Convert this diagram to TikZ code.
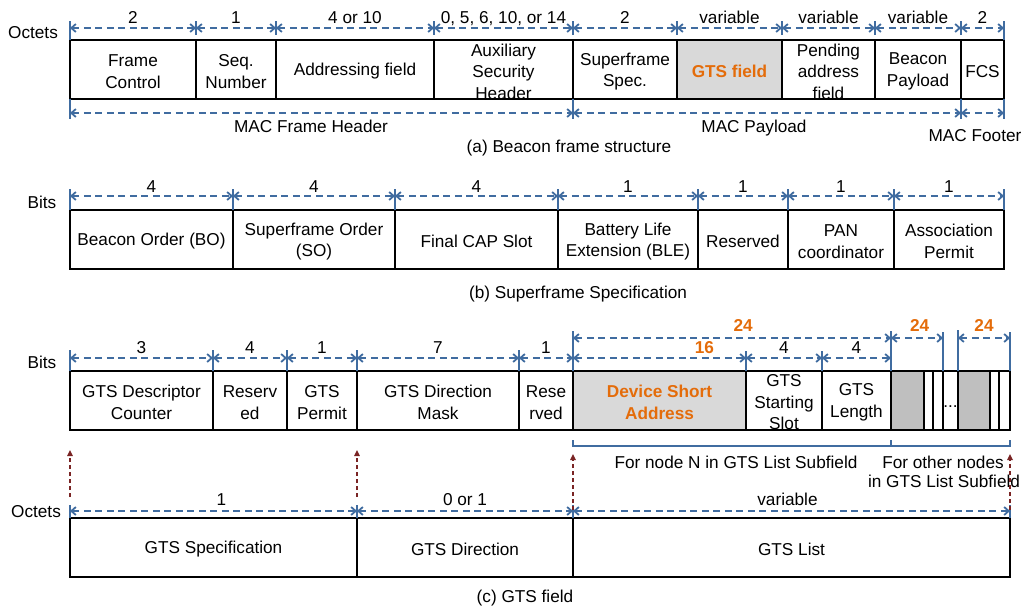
\documentclass[tikz,border=0pt]{standalone}
\usepackage{fontspec}
\setmainfont{Liberation Sans}
\usetikzlibrary{arrows.meta}
\definecolor{dimblue}{RGB}{64,108,160}
\definecolor{hlorange}{RGB}{228,108,10}
\definecolor{darkred}{RGB}{122,36,36}
\definecolor{lgray}{RGB}{217,217,217}
\definecolor{dgray}{RGB}{191,191,191}
\newcommand\cellfont{\fontsize{17.2}{21.5}\selectfont}
\tikzset{
  cell/.style={draw=black, line width=1.8pt, inner sep=0pt, outer sep=0pt},
  hl/.style={font=\cellfont\bfseries, text=hlorange},
  dim/.style={draw=dimblue, line width=1.8pt, dash pattern=on 7pt off 4.5pt,
    {Straight Barb[length=4.5pt,width=8pt]}-{Straight Barb[length=4.5pt,width=8pt]}},
  tick/.style={draw=dimblue, line width=1.3pt},
  lab/.style={font=\cellfont, inner sep=0pt, anchor=base},
  txt/.style={font=\cellfont, inner sep=0pt, align=center},
  upar/.style={draw=darkred, line width=1.6pt, dash pattern=on 4pt off 3pt,
    -{Triangle[length=6pt,width=5.5pt]}},
  brk/.style={draw=dimblue, line width=1.5pt},
}
% #1 cell style, #2 text style, #3 name, #4 x1, #5 x2, #6 ytop, #7 ybottom, #8 text
\newcommand\fcell[8]{%
  \pgfmathsetmacro\cw{#5-#4}\pgfmathsetmacro\ch{#7-#6}%
  \node[cell,#1,minimum width=\cw pt,minimum height=\ch pt,anchor=north west] (#3) at (#4,#6) {};
  \node[txt,#2] (#3-t) at ([yshift=-2pt]#3.center) {#8};}
% dimension line: #1 from anchor, #2 to anchor, #3 shift, #4 label opts, #5 label
\newcommand\dimab[5]{%
  \draw[dim] ([yshift=#3]#1) -- ([yshift=#3]#2) node[lab,midway,yshift=5pt,#4]{#5};}
% tick: #1 anchor, #2 top shift, #3 bottom shift
\newcommand\tk[3]{\draw[tick] ([yshift=#2]#1) -- ([yshift=#3]#1);}
\begin{document}
\begin{tikzpicture}[x=1pt,y=-1pt]
\useasboundingbox (0,0) rectangle (1022,608);

% ---------------- (a) Beacon frame structure
\node[txt] (oct1) at (33,33) {Octets};
\fcell{}{}{fc}{70}{196}{40}{99}{Frame\\Control}
\fcell{}{}{sn}{196}{276}{40}{99}{Seq.\\Number}
\fcell{}{}{af}{276}{434}{40}{99}{Addressing field}
\fcell{}{}{ash}{434}{573}{40}{99}{Auxiliary\\Security\\Header}
\fcell{}{}{ss}{573}{677}{40}{99}{Superframe\\Spec.}
\fcell{fill=lgray}{hl}{gts}{677}{782}{40}{99}{GTS field}
\fcell{}{}{pa}{782}{875}{40}{99}{Pending\\address\\field}
\fcell{}{}{bp}{875}{961}{40}{99}{Beacon\\Payload}
\fcell{}{}{fcs}{961}{1004}{40}{99}{FCS}

\tk{fc.north west}{19pt}{0pt}
\tk{sn.north west}{19pt}{5pt}
\tk{af.north west}{19pt}{5pt}
\tk{ash.north west}{19pt}{5pt}
\tk{ss.north west}{19pt}{5pt}
\tk{gts.north west}{19pt}{5pt}
\tk{pa.north west}{19pt}{5pt}
\tk{bp.north west}{19pt}{5pt}
\tk{fcs.north west}{19pt}{5pt}
\tk{fcs.north east}{19pt}{0pt}
\dimab{fc.north west}{fc.north east}{12pt}{}{2}
\dimab{sn.north west}{sn.north east}{12pt}{}{1}
\dimab{af.north west}{af.north east}{12pt}{}{4 or 10}
\dimab{ash.north west}{ash.north east}{12pt}{}{0, 5, 6, 10, or 14}
\dimab{ss.north west}{ss.north east}{12pt}{}{2}
\dimab{gts.north west}{gts.north east}{12pt}{}{variable}
\dimab{pa.north west}{pa.north east}{12pt}{}{variable}
\dimab{bp.north west}{bp.north east}{12pt}{}{variable}
\dimab{fcs.north west}{fcs.north east}{12pt}{}{2}

\tk{fc.south west}{0pt}{-20pt}
\tk{ss.south west}{0pt}{-20pt}
\tk{fcs.south west}{0pt}{-20pt}
\tk{fcs.south east}{0pt}{-20pt}
\draw[dim] ([yshift=-14pt]fc.south west) -- ([yshift=-14pt]ss.south west);
\draw[dim] ([yshift=-14pt]ss.south west) -- ([yshift=-14pt]fcs.south west);
\draw[dim] ([yshift=-14pt]fcs.south west) -- ([yshift=-14pt]fcs.south east);
\node[lab] (mfh) at (311,132) {MAC Frame Header};
\node[lab] (mpl) at (754,132) {MAC Payload};
\node[lab] (mft) at (975,141) {MAC Footer};
\node[lab] (capa) at (569,152) {(a) Beacon frame structure};

% ---------------- (b) Superframe Specification
\node[txt] (bits1) at (42,202) {Bits};
\fcell{}{}{bo}{70}{233}{210}{269}{Beacon Order (BO)}
\fcell{}{}{so}{233}{395}{210}{269}{Superframe Order\\(SO)}
\fcell{}{}{fcap}{395}{558}{210}{269}{Final CAP Slot}
\fcell{}{}{ble}{558}{698}{210}{269}{Battery Life\\Extension (BLE)}
\fcell{}{}{rsvb}{698}{788}{210}{269}{Reserved}
\fcell{}{}{pan}{788}{894}{210}{269}{PAN\\coordinator}
\fcell{}{}{asp}{894}{1004}{210}{269}{Association\\Permit}
\tk{bo.north west}{21pt}{0pt}
\tk{so.north west}{21pt}{0pt}
\tk{fcap.north west}{21pt}{0pt}
\tk{ble.north west}{21pt}{0pt}
\tk{rsvb.north west}{21pt}{0pt}
\tk{pan.north west}{21pt}{0pt}
\tk{asp.north west}{21pt}{0pt}
\tk{asp.north east}{21pt}{0pt}
\dimab{bo.north west}{bo.north east}{14pt}{yshift=-1pt}{4}
\dimab{so.north west}{so.north east}{14pt}{yshift=-1pt}{4}
\dimab{fcap.north west}{fcap.north east}{14pt}{yshift=-1pt}{4}
\dimab{ble.north west}{ble.north east}{14pt}{yshift=-1pt}{1}
\dimab{rsvb.north west}{rsvb.north east}{14pt}{yshift=-1pt}{1}
\dimab{pan.north west}{pan.north east}{14pt}{yshift=-1pt}{1}
\dimab{asp.north west}{asp.north east}{14pt}{yshift=-1pt}{1}
\node[lab] (capb) at (578,298) {(b) Superframe Specification};

% ---------------- (c) GTS field, bits
\node[txt] (bits2) at (42,362) {Bits};
\fcell{}{}{gdc}{70}{213}{371}{430}{GTS Descriptor\\Counter}
\fcell{}{}{rsvc}{213}{287}{371}{430}{Reserv\\ed}
\fcell{}{}{gp}{287}{357}{371}{430}{GTS\\Permit}
\fcell{}{}{gdm}{357}{519}{371}{430}{GTS Direction\\Mask}
\fcell{}{}{rsvd}{519}{573}{371}{430}{Rese\\rved}
\fcell{fill=lgray}{hl}{dsa}{573}{746}{371}{430}{Device Short\\Address}
\fcell{}{}{gss}{746}{822}{371}{430}{GTS\\Starting\\Slot}
\fcell{}{}{gl}{822}{891}{371}{430}{GTS\\Length}
\fcell{fill=dgray}{}{sa}{891}{924}{371}{430}{}
\fcell{}{}{sb}{924}{933}{371}{430}{}
\fcell{}{}{sc}{933}{943}{371}{430}{}
\fcell{}{}{sd}{943}{958}{371}{430}{}
\fcell{fill=dgray}{}{se}{958}{990}{371}{430}{}
\fcell{}{}{sf}{990}{999}{371}{430}{}
\fcell{}{}{sg}{999}{1010}{371}{430}{}
\node[txt] (dots) at (950.5,407) {...};

\tk{gdc.north west}{21pt}{0pt}
\tk{rsvc.north west}{21pt}{0pt}
\tk{gp.north west}{21pt}{0pt}
\tk{gdm.north west}{21pt}{0pt}
\tk{rsvd.north west}{21pt}{0pt}
\tk{dsa.north west}{40pt}{0pt}
\tk{gss.north west}{20pt}{0pt}
\tk{gl.north west}{20pt}{0pt}
\tk{gl.north east}{40pt}{0pt}
\tk{sc.north east}{39pt}{0pt}
\tk{se.north west}{41pt}{0pt}
\tk{sg.north east}{39pt}{0pt}
\dimab{gdc.north west}{gdc.north east}{13pt}{}{3}
\dimab{rsvc.north west}{rsvc.north east}{13pt}{}{4}
\dimab{gp.north west}{gp.north east}{13pt}{}{1}
\dimab{gdm.north west}{gdm.north east}{13pt}{}{7}
\dimab{rsvd.north west}{rsvd.north east}{13pt}{}{1}
\dimab{dsa.north west}{dsa.north east}{13pt}{pos=0.76,font=\cellfont\bfseries,text=hlorange}{16}
\dimab{gss.north west}{gss.north east}{13pt}{}{4}
\dimab{gl.north west}{gl.north east}{13pt}{}{4}
\dimab{dsa.north west}{gl.north east}{33pt}{pos=0.535,yshift=2pt,font=\cellfont\bfseries,text=hlorange}{24}
\dimab{sa.north west}{sc.north east}{33pt}{pos=0.55,yshift=2pt,font=\cellfont\bfseries,text=hlorange}{24}
\dimab{se.north west}{sg.north east}{33pt}{yshift=2pt,font=\cellfont\bfseries,text=hlorange}{24}

\draw[brk] ([yshift=-10pt]dsa.south west) -- ([yshift=-16pt]dsa.south west)
  -- ([yshift=-16pt]gl.south east) -- ([yshift=-10pt]gl.south east);
\draw[brk] ([yshift=-16pt]gl.south east) -- ([yshift=-16pt]sg.south east)
  -- ([yshift=-10pt]sg.south east);
\node[lab] (fnn) at (736,468) {For node N in GTS List Subfield};
\node[lab] (fon1) at (943,468) {For other nodes};
\node[lab] (fon2) at (944,487) {in GTS List Subfield};

% ---------------- (c) GTS field, octets
\node[txt] (oct2) at (36,512) {Octets};
\fcell{}{}{gspec}{70}{357}{518}{577}{GTS Specification}
\fcell{}{}{gdir}{357}{573}{518}{577}{GTS Direction}
\fcell{}{}{glist}{573}{1010}{518}{577}{GTS List}
\tk{gspec.north west}{13pt}{0pt}
\tk{gdir.north west}{13pt}{0pt}
\tk{glist.north west}{13pt}{0pt}
\tk{glist.north east}{13pt}{0pt}
\dimab{gspec.north west}{gspec.north east}{7pt}{xshift=8pt,yshift=1pt}{1}
\dimab{gdir.north west}{gdir.north east}{7pt}{yshift=1pt}{0 or 1}
\dimab{glist.north west}{glist.north east}{7pt}{xshift=-4pt,yshift=1pt}{variable}

\draw[upar] ([yshift=21pt]gspec.north west) -- ([yshift=-20pt]gdc.south west);
\draw[upar] ([yshift=21pt]gdir.north west) -- ([yshift=-20pt]gdm.south west);
\draw[upar] ([yshift=8pt]glist.north west) -- ([yshift=-24pt]dsa.south west);
\draw[upar] ([yshift=8pt]glist.north east) -- ([yshift=-24pt]sg.south east);

\node[lab] (capc) at (525,602) {(c) GTS field};
\end{tikzpicture}
\end{document}
